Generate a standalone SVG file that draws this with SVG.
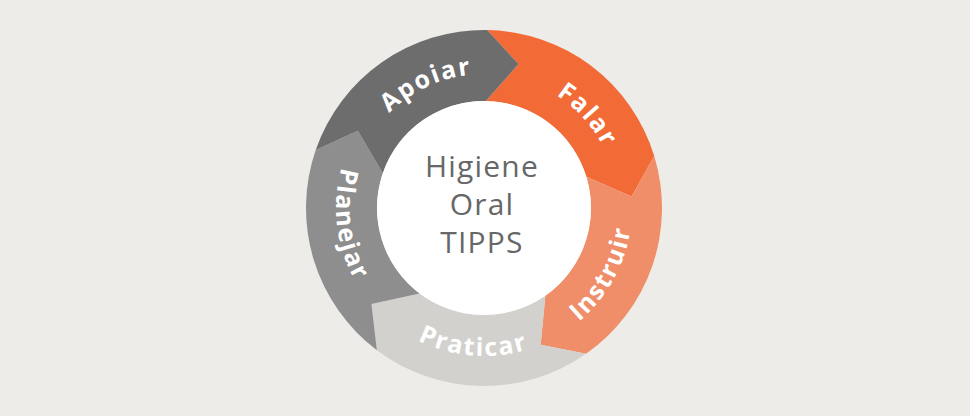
<svg xmlns="http://www.w3.org/2000/svg" width="970" height="416" viewBox="0 0 970 416">
  <style>
    .lbl { font-family: "Open Sans", "Liberation Sans", sans-serif; font-weight: 700; font-size: 25px; fill: #ffffff; letter-spacing: 1.8px; }
    .ctr { font-family: "Open Sans", "Liberation Sans", sans-serif; font-weight: 400; font-size: 30px; fill: #676767; text-anchor: middle; letter-spacing: 1.2px; }
  </style>
  <defs>
    <path id="p-apoiar" d="M350.51,196.32 A134,134 0 0 1 560.86,98.23"/>
    <path id="p-falar" d="M456.14,76.93 A134,134 0 0 1 611.44,249.41"/>
    <path id="p-instruir" d="M486.58,355.98 A148,148 0 0 0 610.86,131.77"/>
    <path id="p-praticar" d="M350.42,271.72 A148,148 0 0 0 605.97,291.83"/>
    <path id="p-planejar" d="M394.93,89.80 A148,148 0 0 0 426.17,344.23"/>
  </defs>
  <rect x="0" y="0" width="970" height="416" fill="#eeece9"/>
  <g id="connectors"/>
  <g id="node-falar">
    <path d="M487.11,30.03 A178,178 0 0 1 654.22,155.96 L631.54,196.39 L586.33,176.72 A107,107 0 0 0 485.87,101.02 L518.55,64.09 Z" fill="#f26a36"/>
    <text class="lbl"><textPath href="#p-falar" startOffset="50%" text-anchor="middle">Falar</textPath></text>
  </g>
  <g id="node-instruir">
    <path d="M654.22,155.96 A178,178 0 0 1 586.10,353.81 L540.64,344.73 L545.37,295.65 A107,107 0 0 0 586.33,176.72 L631.54,196.39 Z" fill="#f08e69"/>
    <text class="lbl"><textPath href="#p-instruir" startOffset="50%" text-anchor="middle">Instruir</textPath></text>
  </g>
  <g id="node-praticar">
    <path d="M586.10,353.81 A178,178 0 0 1 376.88,350.16 L371.46,304.12 L419.61,293.45 A107,107 0 0 0 545.37,295.65 L540.64,344.73 Z" fill="#d3d1ce"/>
    <text class="lbl"><textPath href="#p-praticar" startOffset="50%" text-anchor="middle">Praticar</textPath></text>
  </g>
  <g id="node-planejar">
    <path d="M376.88,350.16 A178,178 0 0 1 315.70,150.05 L357.81,130.67 L382.83,173.16 A107,107 0 0 0 419.61,293.45 L371.46,304.12 Z" fill="#8e8e8e"/>
    <text class="lbl"><textPath href="#p-planejar" startOffset="50%" text-anchor="middle">Planejar</textPath></text>
  </g>
  <g id="node-apoiar">
    <path d="M315.70,150.05 A178,178 0 0 1 487.11,30.03 L518.55,64.09 L485.87,101.02 A107,107 0 0 0 382.83,173.16 L357.81,130.67 Z" fill="#6d6d6d"/>
    <text class="lbl"><textPath href="#p-apoiar" startOffset="50%" text-anchor="middle">Apoiar</textPath></text>
  </g>
  <g id="node-center">
    <circle cx="484" cy="208" r="107" fill="#ffffff"/>
    <text class="ctr" x="482" y="177">Higiene</text>
    <text class="ctr" x="482" y="215">Oral</text>
    <text class="ctr" x="482" y="253">TIPPS</text>
  </g>
</svg>
